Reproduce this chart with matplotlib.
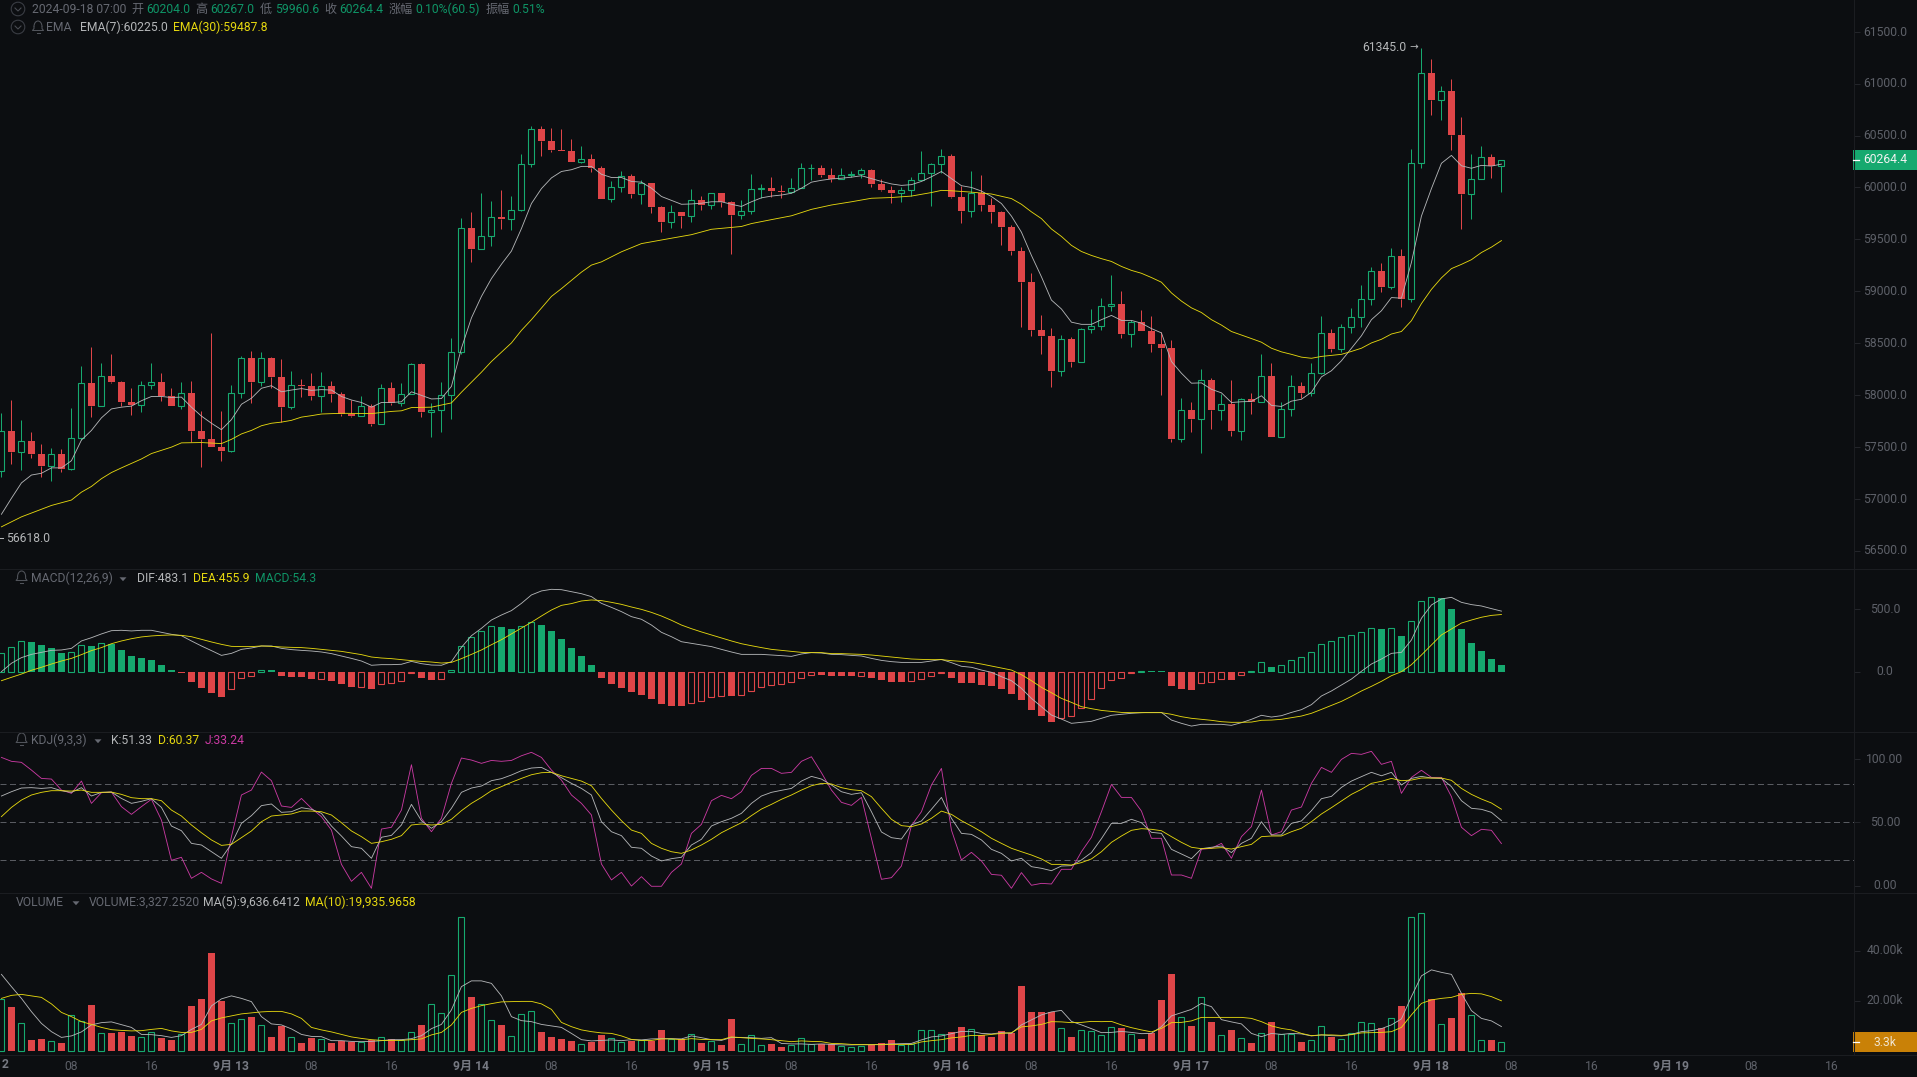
import numpy as np
import matplotlib
matplotlib.use("Agg")
import matplotlib.pyplot as plt
from matplotlib.patches import Circle, Rectangle, Polygon, Arc
from matplotlib.transforms import ScaledTranslation

# ---------- data ----------
first_open = 57270
closes = [57649,57453,57553,57436,57319,57436,57291,57584,58114,57897,58186,58124,57935,57907,58093,58127,57986,57897,58024,57652,57580,57501,57463,58024,58355,58127,58361,58169,57883,58100,58083,57993,58090,58014,57814,57797,57897,57725,58069,57924,58014,58303,57838,57859,58004,58410,59614,59411,59535,59711,59693,59786,60230,60567,60450,60364,60351,60247,60278,60189,59889,60006,60106,59938,
60044,59810,59669,59759,59728,59876,59834,59944,59858,59738,59769,59982,59993,59965,59955,59993,60185,60192,60123,60079,60117,60127,60165,60037,59979,59948,59972,60075,60144,60230,60299,59907,59772,59944,59831,59759,59621,59387,59091,58630,58568,58231,58537,58320,58633,58668,58860,58881,58589,58706,58616,58492,58454,57577,57852,57773,58141,57859,57911,57656,57966,57935,58179,57597,
57862,58083,58021,58210,58602,58447,58657,58754,58922,59191,59043,59335,58929,60240,61101,60846,60932,60509,59941,60079,60289,60204,60264.4]
highs = [57831,57952,57756,57642,57529,57487,57477,57873,58275,58461,58310,58392,58131,58065,58138,58310,58217,58072,58121,58138,57849,58602,57845,58096,58379,58420,58410,58365,58348,58227,58151,58213,58220,58138,58031,57952,57990,57917,58103,58121,58114,58313,58310,57924,58124,58551,59704,59762,59948,59872,59975,59917,60323,60595,60588,60574,60560,60464,60399,60320,60206,60061,60154,60127,
60068,60044,59821,59831,59766,59986,59920,59948,59944,59872,59879,60130,60037,60099,60024,60093,60240,60223,60216,60185,60185,60161,60192,60178,60079,60017,60000,60096,60347,60240,60368,60320,60017,60158,60117,59903,59776,59642,59428,59177,58771,58647,58578,58561,58647,58829,58933,59156,59002,58719,58819,58761,58606,58527,57973,57928,58248,58165,58010,58148,57973,58021,58392,58313,
57931,58193,58124,58310,58761,58633,58685,58843,59057,59232,59273,59418,59404,60368,61345.0,61242,60977,61049,60677,60327,60399,60320,60267]
lows = [57212,57339,57277,57394,57212,57167,57257,57281,57566,57790,57897,58117,57893,57807,57835,58062,57945,57890,57862,57546,57305,57498,57367,57453,57969,57924,58090,58072,57739,57866,57980,57952,57838,57935,57797,57790,57797,57704,57721,57900,57890,58007,57790,57591,57646,57773,58399,59277,59432,59432,59604,59587,59776,60199,60302,60340,60351,60244,60240,60151,59886,59862,59955,59900,
59838,59752,59573,59611,59611,59669,59786,59793,59810,59360,59700,59742,59903,59907,59903,59948,59993,60075,60096,60048,60086,60103,60093,60000,59962,59848,59862,59917,60068,59821,60144,59900,59662,59711,59776,59659,59442,59346,58651,58568,58396,58076,58186,58272,58320,58596,58630,58812,58554,58458,58616,58410,58004,57549,57546,57642,57443,57673,57763,57608,57570,57814,57935,57591,
57601,57801,57976,57986,58203,58413,58413,58599,58657,58871,58995,59026,58847,58898,60192,60702,60653,60361,59600,59693,60079,60089,59960.6]
ema7 = [56851,57005,57153,57229,57246,57298,57298,57367,57566,57659,57780,57866,57883,57893,57945,57986,57986,57976,57980,57883,57797,57728,57666,57763,57911,57969,58065,58090,58031,58048,58062,58045,58052,58048,57986,57952,57928,57883,57928,57928,57935,58031,57997,57962,57966,58083,58451,58743,58950,59122,59260,59387,59604,59845,59989,60092,60154,60171,60203,60203,60127,60096,60096,60058,
60051,59993,59913,59876,59838,59841,59848,59862,59862,59838,59817,59862,59900,59917,59927,59944,59993,60051,60069,60082,60089,60099,60113,60086,60058,60034,60020,60027,60058,60103,60154,60086,60017,60000,59965,59913,59845,59724,59569,59345,59139,58915,58829,58702,58681,58681,58726,58767,58719,58719,58692,58640,58599,58323,58210,58114,58117,58055,58021,57928,57935,57938,57993,57900,
57890,57941,57959,58027,58175,58234,58330,58451,58571,58726,58812,58939,58933,59277,59724,59989,60233,60309,60209,60185,60213,60206,60225.0]
ema30_at = [0,2,5,7,8,9,10,11,12,14,15,17,18,20,22,23,24,25,26,27,28,29,30,31,32,34,37,39,40,41,43,45,46,48,49,51,52,53,55,56,58,59,60,62,64,67,69,71,74,75,77,79,81,83,85,87,89,91,93,94,95,97,99,101,102,103,104,105,106,107,108,109,110,111,112,113,114,115,116,117,118,119,120,121,122,123,124,125,126,127,128,129,130,131,132,133,134,135,136,137,138,139,140,141,142,143,144,145,146,147,148,149,150]
ema30 = [56730,56826,56936,56988,57064,57119,57194,57253,57298,57384,57436,57498,57539,57542,57532,57573,57625,57659,57704,57728,57739,57756,57787,57801,57817,57824,57821,57842,57848,57879,57883,57924,58027,58220,58323,58502,58623,58726,58950,59025,59184,59252,59283,59380,59459,59511,59545,59597,59624,59652,59690,59727,59789,59831,59862,59896,59903,59917,59951,59972,59968,59955,59937,59893,59838,59765,59700,59600,59528,59442,59383,59345,59314,59287,59239,59201,59173,59132,59087,58984,58905,58840,58795,58726,58674,58612,58578,58544,58509,58451,58416,58392,58365,58354,58372,58382,58392,58420,58451,58502,58537,58588,58612,58716,58881,59018,59129,59218,59259,59304,59373,59425,59487.8]
macd_hist = [146,200,242,234,213,186,149,154,210,207,226,221,173,125,109,93,53,11,-8,-82,-133,-170,-202,-136,-53,-32,11,11,-35,-40,-43,-59,-56,-72,-98,-122,-120,-138,-96,-88,-72,-13,-53,-64,-56,13,202,279,327,362,354,338,362,394,372,325,258,186,125,53,-51,-98,-130,-165,
-186,-218,-258,-274,-274,-247,-231,-200,-192,-194,-184,-152,-120,-104,-96,-80,-48,-24,-24,-35,-35,-35,-32,-51,-67,-82,-82,-72,-56,-32,-11,-51,-90,-90,-106,-114,-138,-178,-226,-306,-354,-402,-367,-351,-287,-215,-128,-64,-48,-13,5,5,5,-114,-138,-146,-88,-80,-56,-67,-24,8,74,37,
51,90,114,154,218,242,274,290,314,346,338,346,285,402,561,593,590,500,338,226,165,101,54.3]
dif = [0,67,112,138,154,170,173,186,245,271,301,327,330,325,330,330,314,298,287,245,205,168,130,146,178,189,205,205,186,176,170,165,157,144,125,106,85,51,56,56,59,82,64,53,51,80,194,287,346,412,452,487,545,612,644,657,654,638,622,599,545,513,479,439,
418,372,314,279,239,226,213,200,178,157,138,138,138,133,128,122,141,152,149,138,136,130,125,106,90,80,74,74,74,85,98,72,43,35,13,-5,-40,-72,-133,-213,-279,-346,-378,-412,-404,-396,-372,-348,-340,-332,-327,-325,-325,-386,-412,-434,-420,-420,-420,-428,-407,-380,-348,-362,
-351,-325,-303,-263,-194,-154,-106,-59,3,61,101,146,154,253,426,532,580,593,553,535,524,503,483.1]
dea = [-72,-45,-19,11,35,61,85,106,136,168,192,223,245,263,277,285,290,293,290,279,258,237,218,202,200,200,205,202,197,194,192,186,178,170,162,149,136,117,109,104,96,88,82,77,69,74,104,138,173,215,255,301,346,394,444,492,529,543,564,572,567,553,537,516,
497,473,444,410,372,343,317,293,269,245,223,207,192,178,170,162,154,152,152,144,144,141,138,133,125,117,109,101,98,96,96,88,82,74,61,45,29,13,-24,-72,-125,-168,-213,-245,-279,-295,-309,-317,-325,-327,-327,-327,-327,-340,-359,-372,-380,-388,-399,-404,-404,-402,-388,-386,
-380,-367,-354,-332,-301,-269,-237,-197,-154,-117,-77,-32,0,56,133,213,293,340,388,412,434,449,455.9]
kdj_k = [70.8,74.2,77.1,77.4,76.8,77.4,75,73.7,77.4,70.8,73.7,73.9,68.9,65,66.6,68.7,61.8,47.1,43.4,33.4,32.1,26.8,21.6,32.9,49.2,55.3,63.2,64.5,57.9,58.4,61.6,60.3,57.1,47.1,39.2,30.8,29.5,21.6,38.2,39.7,47.9,64.2,51.3,45.3,50.5,61.1,73.7,77.1,78.7,82.9,84.5,87.4,90.8,92.9,93.4,89.5,85.3,80.8,76.8,71.6,50.5,42.6,39.5,30.3,
29.5,23.4,19.5,21.3,22.4,32.1,36.6,47.1,50.5,53.2,57.1,65,70.8,73.7,75.3,76.8,82.6,86.3,84.2,79.5,74.2,72.1,73.4,58.4,42.4,37.9,36.8,47.9,51.1,60.3,69.7,53.2,41.3,40.5,36.1,28.7,25.5,19.5,21.6,15,13.7,11.8,15.5,15.8,20.3,26.1,37.1,49.2,49.2,52.4,49.7,42.1,41.3,28.7,25,21.3,29.2,30.3,31.3,26.1,33.4,37.4,50.5,40,
40,49.2,51.1,59.2,68.7,70.5,77.6,82.6,86.1,89.5,86.8,89.5,79.5,84.7,86.3,85,84.7,78.2,67.1,61.1,60.3,57.9,51.33]
kdj_d = [54.5,61.8,67.6,71.6,73.7,75,75,74.7,75.5,73.7,73.7,73.9,72.1,69.5,68.7,68.7,67.1,59.7,55,47.9,41.8,36.1,31.8,32.6,37.9,43.2,50.5,55,55.8,56.6,58.9,58.9,58.4,55.8,49.7,43.2,38.7,33.4,34.7,36.6,39.5,47.9,48.7,47.9,48.4,52.4,59.2,65,69.7,75,78.2,81.6,84.7,87.6,89.2,89.5,86.8,84.7,82.6,78.9,68.9,59.7,51.3,43.9,
41.3,33.4,29.5,26.8,25.5,28.2,32.1,36.6,41.8,45.8,49.7,55.3,60.5,64.2,68.2,71.6,75.5,78.9,80.8,80.3,77.4,75.8,75,70.3,61.1,52.4,47.4,46.6,48.7,53.2,58.9,56.3,51.3,47.1,42.6,37.4,33.4,29.5,26.8,24.2,21.1,16.8,16.8,16.3,18.2,21.1,26.8,34.2,39.2,43.7,45,44.5,43.4,38.7,34.2,30.3,29.2,29.5,30,28.9,30.8,32.6,38.7,39.2,
39.2,42.6,45.3,50.5,56.6,61.6,66.8,72.1,76.1,80.8,82.4,84.7,82.9,83.4,85,85,85,83.2,76.8,72.1,68.4,65.3,60.37]
kdj_j = [101.3,98.2,97.4,91.3,84.7,84.2,75.5,72.9,82.6,65,73.4,73.9,62.4,56.3,62.4,68.2,51.8,20,22.4,5.8,10.5,5.3,1.8,38.7,71.6,75.5,89.7,82.9,62.9,61.8,68.9,61.1,54.5,43.9,16.8,3.4,10.5,-2.1,44.7,46.1,59.7,95.5,53.2,42.6,53.2,80.8,100.8,99.2,96.6,98.9,98.2,98.9,102.6,105.3,101.3,91.3,83.4,71.6,65,55.8,17.1,4.5,10.5,-0.3,
7.1,-0.5,-0.5,10.5,17.1,41.3,48.4,67.1,71.3,68.7,74.2,87.1,92.6,92.6,88.7,89.5,98.2,101.8,89.2,75.5,65.8,63.4,69.7,37.4,5,6.3,15.5,47.4,58.4,79.5,92.6,43.9,20.3,26.3,19.5,8.9,8.2,-2.1,10.3,0.3,1.8,1.3,12.9,12.9,26.8,38.2,58.4,80,69.7,69.7,58.9,37.4,37.4,8.4,8.4,5.8,28.7,29.5,33.4,21.6,38.7,46.6,75.5,40,
42.6,59.7,62.1,80.8,93.4,89.5,99.7,104.5,103.7,106.1,95.8,98.2,72.9,85.5,91.1,85.5,85.5,70.3,46.1,39.5,44.5,43.7,33.24]
volume_k = [20.5,17.5,10.9,4.3,4.7,3.7,3.1,14.1,11.9,18.3,6.9,7.1,7.5,5.9,5.3,7.3,5.1,4.3,6.7,17.9,20.7,39.1,19.9,10.9,12.5,13.5,10.1,5.5,10,5.3,3.1,5.2,4.8,3.1,3.9,3.6,3.6,4.3,5.3,4.5,4.4,7.3,10.3,18.5,14.9,30.1,53.3,21.5,18.7,12.1,10.3,5.7,14.5,15.7,7.5,5.5,4.7,3.9,2.5,3.6,6.3,4.9,3.6,4,
4.3,4,8.3,4.7,4.5,6.5,3.1,4,2.3,12.7,2.5,6.1,2.1,2.7,1.5,2.1,4.9,2.5,2.5,2.8,1.7,1.3,2,2.4,2.9,4.3,2.3,2.7,8.1,8.1,6.5,7.5,9.5,8.5,6.1,5.5,7.9,7.1,25.9,15.5,15.5,15.6,8.9,5.5,8.1,7.7,6.3,9.3,8.9,6.5,4.7,7.1,20.3,30.7,13.3,9.9,21.3,11.5,6.1,8.3,4.9,3.1,6.9,11.5,
6.5,6.5,3.5,4.1,9.7,5.6,4.7,6.9,11.3,10.9,9.1,12.9,17.9,53.3,54.9,20.5,10.5,13.1,22.9,14.1,4.1,4.3,3.327]
vol_ma5 = [30.5,25.6,20.9,15.6,10.9,7.6,5.3,5.9,7.5,10.3,11.2,11.5,10.4,9.3,6.5,6.4,6,5.3,6,8.5,10.5,17.9,20.7,21.9,20.9,19.6,13.6,10.7,10.3,8.7,6.5,5.7,5.6,4,4,3.7,3.6,3.7,4,4.4,4.4,4.8,6,8.8,10.5,16.3,25.6,27.9,27.9,26.9,21.9,13.6,12,11.6,10.5,9.9,9.3,6.9,4.4,3.9,4.1,4.3,4,4.4,
4.3,4.7,4.8,4.8,4.7,5.9,5.2,4.4,4.1,5.3,5.3,5.2,4.9,5.2,2.9,2.7,2.7,2.5,2.7,2.5,2.3,2.3,2.4,2.4,2.5,2.7,2.8,2.9,4.3,5.5,5.9,6.8,7.7,7.7,6.9,6.7,7.2,6.9,10.3,12.3,14.3,15.5,16.1,11.7,10.3,8.8,7.2,7.3,7.7,7.3,6.8,6.9,9.6,13.9,15.2,16.5,18.9,17.6,12.4,11.5,10.7,6.9,5.6,6.9,
6.5,6.9,6.7,5.9,6.3,6,5.9,6.5,7.6,8,8.8,10.3,12.7,21.6,29.9,32.3,31.3,30.5,22.9,16,12.9,11.9,9.637]
vol_ma10 = [20.9,22.1,22.5,21.9,21.3,18.7,15.3,13.6,11.6,10.5,9.3,8.4,8.1,7.9,8,8.5,8.9,7.9,7.3,7.3,8.5,11.9,13.1,13.9,14.7,15.1,15.5,15.7,15.7,14.7,12.9,9.3,8.3,7.5,6.5,5.5,4.9,4.4,4.1,4.1,4.1,4.4,4.7,6.3,7.3,10.3,15.3,16.9,18,18.8,19.5,19.6,19.7,19.7,18.7,16.5,11.3,9.6,8.3,7.6,7.1,6.9,5.9,4.5,
4.1,4.1,4.7,4.7,4.4,4.8,4.5,4.4,4.4,5.5,5.2,4.9,4.7,4.4,4,3.6,3.9,3.7,3.6,2.9,2.8,2.5,2.4,2.4,2.4,2.5,2.5,2.5,3.5,4,4.4,5.1,5.5,6.1,6.1,6.5,6.9,7.2,9.5,9.9,10.5,11.6,11.5,11.2,11.3,11.7,11.6,11.7,10.3,9.2,8.3,7.5,8.9,11.2,11.3,11.9,13.3,13.3,13.3,13.3,13.3,12.9,11.6,9.9,
8.9,8.3,6.9,6,6.3,6.3,6.1,6.4,7.1,7.2,7.3,7.6,9.3,14.3,18.9,20.3,20.9,21.3,22.5,22.9,22.7,21.6,19.936]
price_ticks = [61500,61000,60500,60000,59500,59000,58500,58000,57500,57000,56500]
macd_ticks = [500,0]
kdj_ticks = [100,50,0]
kdj_guides = [80,50,20]
vol_ticks = [40,20]
first_day = 12

for name, arr in dict(closes=closes, highs=highs, lows=lows, ema7=ema7, hist=macd_hist, dif=dif, dea=dea,
                      k=kdj_k, d=kdj_d, j=kdj_j, vol=volume_k, ma5=vol_ma5, ma10=vol_ma10).items():
    assert len(arr) == 151, f"{name} {len(arr)}"
assert len(ema30_at) == len(ema30), f"{len(ema30_at)} {len(ema30)}"

# ---------- style ----------
BG = "#0c0e11"; GREEN = "#16a96f"; RED = "#df4548"; YEL = "#e6d80f"; WHT = "#b4b6b8"; PINK = "#cb3aa3"
GRID = "#1b1d21"; AXT = "#5d6068"; DIM = "#666972"; DGREEN = "#0f9466"
FONT = ["Roboto", "Noto Sans CJK SC", "DejaVu Sans"]
plt.rcParams["font.family"] = FONT
W, H = 1917, 1077
AX_R = 1853.6
LW = 0.62

fig = plt.figure(figsize=(W / 100, H / 100), dpi=100, facecolor=BG)
def panel(top, bottom):
    ax = fig.add_axes([0, 1 - bottom / H, AX_R / W, (bottom - top) / H], facecolor=BG)
    for s in ax.spines.values():
        s.set_visible(False)
    ax.set_xlim(-0.143, (AX_R - 1.43) / 10)
    ax.set_xticks([])
    ax.yaxis.tick_right()
    ax.tick_params(axis="y", length=4.3, width=0.7, color="#24262b", labelcolor=AXT, labelsize=8.7, pad=18.3)
    return ax
def style_ylabels(ax, up_px=1.2):
    for t in ax.get_yticklabels():
        t.set_ha("center")
        t.set_transform(t.get_transform() + ScaledTranslation(0, up_px / 100, fig.dpi_scale_trans))

x = np.arange(151)
closes_a = np.array(closes, float)
opens_a = np.array([first_open] + closes[:-1], float)
highs_a = np.array(highs, float); lows_a = np.array(lows, float)
up = closes_a >= opens_a
top_b = np.maximum(opens_a, closes_a); bot_b = np.minimum(opens_a, closes_a)
BW = 0.68

# main panel
ax = panel(0, 569.3)
ax.set_ylim(56320.7, 61806.3)
ax.set_yticks(price_ticks)
ax.set_yticklabels([f"{v:.1f}" for v in price_ticks]); style_ylabels(ax)
cols = np.where(up, GREEN, RED)
ax.vlines(x, top_b, highs_a, colors=cols, lw=0.72, zorder=2)
ax.vlines(x, lows_a, bot_b, colors=cols, lw=0.72, zorder=2)
ax.bar(x[~up], (top_b - bot_b)[~up], bottom=bot_b[~up], width=BW + 0.04, color=RED, lw=0, zorder=3)
ax.bar(x[up], (top_b - bot_b)[up], bottom=bot_b[up], width=BW - 0.08, facecolor=BG, edgecolor=GREEN, lw=0.8, zorder=3)
ax.plot(x, ema7, color=WHT, lw=LW, zorder=4)
ax.plot(ema30_at, ema30, color=YEL, lw=LW, zorder=4)

# MACD
ax2 = panel(569.3, 731.7)
ax2.set_ylim(-478.8, 816.6)
ax2.set_yticks(macd_ticks); ax2.set_yticklabels([f"{v:.1f}" for v in macd_ticks]); style_ylabels(ax2)
h = np.array(macd_hist, float)
hollow = np.r_[True, h[1:] > h[:-1]]
hc = np.where(h >= 0, GREEN, RED)
ax2.bar(x[~hollow], h[~hollow], width=BW + 0.04, color=hc[~hollow], lw=0, zorder=2)
for xi, hi, ci in zip(x[hollow], h[hollow], hc[hollow]):
    ax2.bar(xi, hi, width=BW - 0.08, facecolor="none", edgecolor=ci, lw=0.8, zorder=2)
ax2.plot(x, dif, color=WHT, lw=LW, zorder=3)
ax2.plot(x, dea, color=YEL, lw=LW, zorder=3)

# KDJ
ax3 = panel(731.7, 893.3)
ax3.set_ylim(-6.05, 121.6)
ax3.set_yticks(kdj_ticks); ax3.set_yticklabels([f"{v:.2f}" for v in kdj_ticks]); style_ylabels(ax3)
for g in kdj_guides:
    ax3.axhline(g, color="#595b61", lw=0.72, dashes=(6, 3.5), zorder=1)
ax3.plot(x, kdj_j, color=PINK, lw=LW, zorder=3)
ax3.plot(x, kdj_k, color=WHT, lw=LW, zorder=3)
ax3.plot(x, kdj_d, color=YEL, lw=LW, zorder=3)

# Volume
ax4 = panel(893.3, 1055)
ax4.set_ylim(-1.73, 62.9)
ax4.set_yticks(vol_ticks); ax4.set_yticklabels([f"{v:.2f}k" for v in vol_ticks]); style_ylabels(ax4, 2.0)
v = np.array(volume_k, float)
ax4.bar(x[~up], v[~up], width=BW + 0.04, color=RED, lw=0, zorder=2)
ax4.bar(x[up], v[up], width=BW - 0.08, facecolor=BG, edgecolor=GREEN, lw=0.8, zorder=2)
ax4.plot(x, vol_ma5, color=WHT, lw=LW, zorder=3)
ax4.plot(x, vol_ma10, color=YEL, lw=LW, zorder=3)
# time axis: candle 0 is 01:00 of the first day
tick_hours = [h_ for h_ in range(8, 192, 8)]
ax4.set_xticks([h_ - 1 for h_ in tick_hours])
labs = [f"9月 {first_day + h_ // 24}" if h_ % 24 == 0 else f"{h_ % 24:02d}" for h_ in tick_hours]
ax4.set_xticklabels(labs)
ax4.tick_params(axis="x", length=0, pad=3.9, labelsize=8.7, labelcolor=AXT)
for t, h_ in zip(ax4.get_xticklabels(), tick_hours):
    if h_ % 24 == 0:
        t.set_fontweight("bold"); t.set_color("#767982")

# overlay in figure pixels
ov = fig.add_axes([0, 0, 1, 1], facecolor="none", zorder=10)
ov.set_xlim(0, W); ov.set_ylim(H, 0); ov.axis("off")
for yy in (569.3, 731.7, 893.3, 1055):
    ov.plot([0, W], [yy, yy], color=GRID, lw=0.75)
ov.plot([AX_R, AX_R], [0, 1055], color=GRID, lw=0.75)

def T(px, py, s, c=DIM, size=8.7, **kw):
    kw.setdefault("ha", "left"); kw.setdefault("va", "center")
    ov.text(px, py, s, color=c, fontsize=size, **kw)

def chevron_icon(px, py):
    ov.add_patch(Circle((px, py), 6.8, fill=False, ec="#3c3f46", lw=0.75))
    ov.plot([px - 3, px, px + 3], [py - 1, py + 2, py - 1], color="#4b4e55", lw=0.75)
def bell(px, py):
    c = "#51545b"
    ov.add_patch(Arc((px, py), 8, 11, theta1=180, theta2=360, ec=c, lw=0.75))
    ov.plot([px - 4, px - 4, px - 5.5, px + 5.5, px + 4, px + 4], [py, py + 2, py + 4, py + 4, py + 2, py], color=c, lw=0.75)
    ov.plot([px - 1.5, px + 1.5], [py + 6, py + 6], color=c, lw=0.75)
def caret(px, py):
    ov.add_patch(Polygon([[px - 3.5, py - 1.7], [px + 3.5, py - 1.7], [px, py + 2.2]], fc="#666972", ec="none"))

chevron_icon(18, 9); chevron_icon(18, 27)
for px, s, c in [(32, "2024-09-18 07:00", DIM), (131, "开", DIM), (146, "60204.0", DGREEN), (195.5, "高", DIM), (210.5, "60267.0", DGREEN),
                 (259.5, "低", DIM), (275, "59960.6", DGREEN), (324.5, "收", DIM), (339.5, "60264.4", DGREEN), (388.5, "涨幅", DIM),
                 (415.5, "0.10%(60.5)", DGREEN), (485.5, "振幅", DIM), (512.5, "0.51%", DGREEN)]:
    T(px, 9.8, s, c)
bell(38, 26.5)
T(46, 27.8, "EMA", DIM); T(80, 27.8, "EMA(7):60225.0", WHT); T(173, 27.8, "EMA(30):59487.8", YEL)

bell(21.6, 576.5); T(30.6, 578.2, "MACD(12,26,9)", DIM); caret(123, 579)
T(137, 578.2, "DIF:483.1", WHT); T(193.5, 578.2, "DEA:455.9", YEL); T(255, 578.2, "MACD:54.3", DGREEN)
bell(21.6, 738.5); T(30.6, 740, "KDJ(9,3,3)", DIM); caret(98, 741)
T(111.4, 740, "K:51.33", WHT); T(158, 740, "D:60.37", YEL); T(204.5, 740, "J:33.24", PINK)
T(16, 902, "VOLUME", DIM); caret(76, 903)
T(88.5, 902, "VOLUME:3,327.2520", DIM); T(202.5, 902, "MA(5):9,636.6412", WHT); T(304.5, 902, "MA(10):19,935.9658", YEL)

# extreme labels
T(1362.5, 47.5, "61345.0", "#b4b6b8")
T(1409.5, 47.5, "→", "#b4b6b8", size=7.5, family=["DejaVu Sans"])
ov.plot([0, 3], [538, 538], color="#b4b6b8", lw=0.75)
T(6, 538, "56618.0", "#b4b6b8")

# last value tags
ov.add_patch(Rectangle((1853, 150), 64, 19.8, fc="#16a96f", ec="none"))
ov.plot([1853, 1859], [160, 160], color="white", lw=0.9)
T(1885, 159.7, "60264.4", "#f2f2f2", ha="center")
ov.add_patch(Rectangle((1853, 1032), 64, 20, fc="#c98107", ec="none"))
ov.plot([1853, 1859], [1042, 1042], color="white", lw=0.9)
T(1885, 1042, "3.3k", "#f0e4cf", ha="center")

# the part of the first day's label that the frame leaves visible
T(5, 1065, "2", "#767982", ha="center", fontweight="bold")

fig.savefig("out.png", dpi=100, facecolor=BG)
